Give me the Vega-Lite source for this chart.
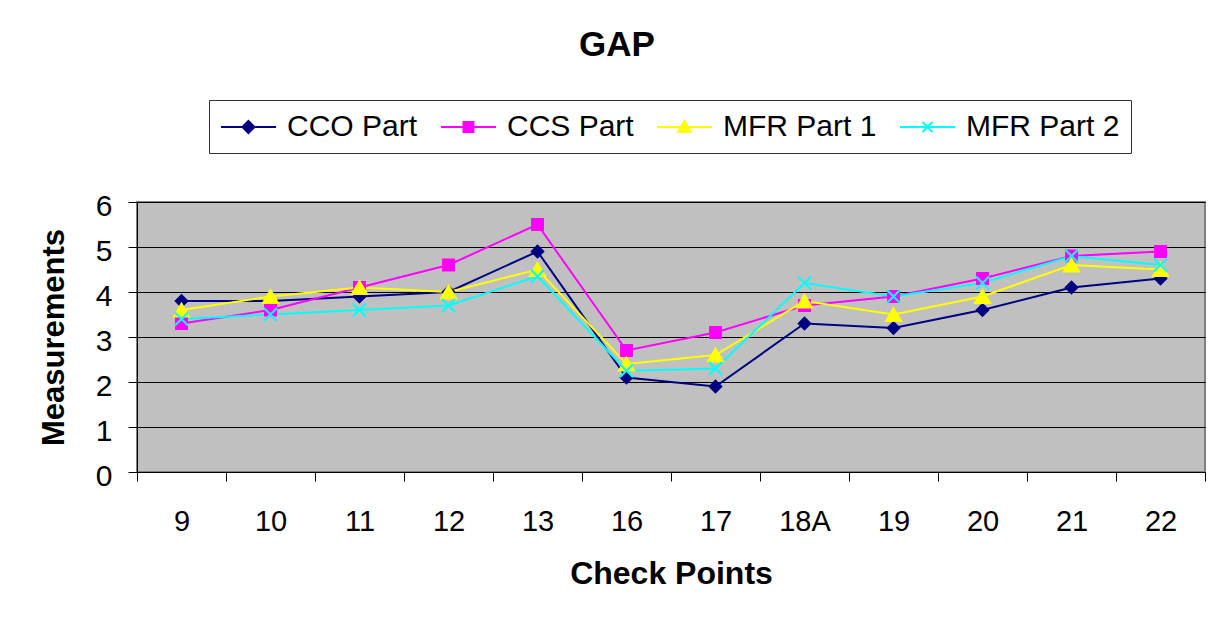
{
  "$schema": "https://vega.github.io/schema/vega-lite/v6.json",
  "autosize": {"type": "none"},
  "width": 1068,
  "height": 270,
  "padding": {"left": 137, "top": 202, "right": 20, "bottom": 149},
  "background": "white",
  "title": {
    "text": "GAP",
    "font": "Liberation Sans",
    "fontSize": 35,
    "fontWeight": "bold",
    "color": "black",
    "anchor": "middle",
    "frame": "group",
    "dx": -54,
    "offset": 37
  },
  "config": {
    "font": "Liberation Sans",
    "view": {"fill": "#C0C0C0", "stroke": "#808080", "strokeWidth": 2},
    "axis": {
      "labelFont": "Liberation Sans",
      "titleFont": "Liberation Sans",
      "labelColor": "black",
      "titleColor": "black",
      "domainColor": "black",
      "tickColor": "black",
      "gridColor": "black",
      "gridOpacity": 1,
      "tickSize": 9,
      "domainWidth": 1,
      "tickWidth": 1
    },
    "legend": {
      "title": null,
      "orient": "none",
      "legendX": 72,
      "legendY": -102,
      "direction": "horizontal",
      "strokeColor": "#333333",
      "fillColor": "white",
      "padding": 11,
      "labelFont": "Liberation Sans",
      "labelFontSize": 30,
      "labelColor": "black",
      "labelOffset": 35,
      "columnPadding": 19,
      "symbolSize": 900,
      "symbolStrokeWidth": 2,
      "symbolOpacity": 1
    }
  },
  "data": {
    "values": [
      {"cp": "9", "series": "CCO Part", "value": 3.8},
      {"cp": "10", "series": "CCO Part", "value": 3.8},
      {"cp": "11", "series": "CCO Part", "value": 3.9},
      {"cp": "12", "series": "CCO Part", "value": 4.0},
      {"cp": "13", "series": "CCO Part", "value": 4.9},
      {"cp": "16", "series": "CCO Part", "value": 2.1},
      {"cp": "17", "series": "CCO Part", "value": 1.9},
      {"cp": "18A", "series": "CCO Part", "value": 3.3},
      {"cp": "19", "series": "CCO Part", "value": 3.2},
      {"cp": "20", "series": "CCO Part", "value": 3.6},
      {"cp": "21", "series": "CCO Part", "value": 4.1},
      {"cp": "22", "series": "CCO Part", "value": 4.3},
      {"cp": "9", "series": "CCS Part", "value": 3.3},
      {"cp": "10", "series": "CCS Part", "value": 3.6},
      {"cp": "11", "series": "CCS Part", "value": 4.1},
      {"cp": "12", "series": "CCS Part", "value": 4.6},
      {"cp": "13", "series": "CCS Part", "value": 5.5},
      {"cp": "16", "series": "CCS Part", "value": 2.7},
      {"cp": "17", "series": "CCS Part", "value": 3.1},
      {"cp": "18A", "series": "CCS Part", "value": 3.7},
      {"cp": "19", "series": "CCS Part", "value": 3.9},
      {"cp": "20", "series": "CCS Part", "value": 4.3},
      {"cp": "21", "series": "CCS Part", "value": 4.8},
      {"cp": "22", "series": "CCS Part", "value": 4.9},
      {"cp": "9", "series": "MFR Part 1", "value": 3.6},
      {"cp": "10", "series": "MFR Part 1", "value": 3.9},
      {"cp": "11", "series": "MFR Part 1", "value": 4.1},
      {"cp": "12", "series": "MFR Part 1", "value": 4.0},
      {"cp": "13", "series": "MFR Part 1", "value": 4.5},
      {"cp": "16", "series": "MFR Part 1", "value": 2.4},
      {"cp": "17", "series": "MFR Part 1", "value": 2.6},
      {"cp": "18A", "series": "MFR Part 1", "value": 3.8},
      {"cp": "19", "series": "MFR Part 1", "value": 3.5},
      {"cp": "20", "series": "MFR Part 1", "value": 3.9},
      {"cp": "21", "series": "MFR Part 1", "value": 4.6},
      {"cp": "22", "series": "MFR Part 1", "value": 4.5},
      {"cp": "9", "series": "MFR Part 2", "value": 3.4},
      {"cp": "10", "series": "MFR Part 2", "value": 3.5},
      {"cp": "11", "series": "MFR Part 2", "value": 3.6},
      {"cp": "12", "series": "MFR Part 2", "value": 3.7},
      {"cp": "13", "series": "MFR Part 2", "value": 4.35},
      {"cp": "16", "series": "MFR Part 2", "value": 2.25},
      {"cp": "17", "series": "MFR Part 2", "value": 2.3},
      {"cp": "18A", "series": "MFR Part 2", "value": 4.2},
      {"cp": "19", "series": "MFR Part 2", "value": 3.9},
      {"cp": "20", "series": "MFR Part 2", "value": 4.2},
      {"cp": "21", "series": "MFR Part 2", "value": 4.8},
      {"cp": "22", "series": "MFR Part 2", "value": 4.6}
    ]
  },
  "encoding": {
    "x": {
      "field": "cp",
      "type": "ordinal",
      "sort": null,
      "bandPosition": 0.5,
      "scale": {"type": "band", "paddingInner": 0, "paddingOuter": 0},
      "axis": {
        "title": "Check Points",
        "titleFontSize": 32,
        "titleFontWeight": "bold",
        "titleY": 111,
        "titleBaseline": "alphabetic",
        "labelFontSize": 29,
        "labelAngle": 0,
        "labelBaseline": "alphabetic",
        "labelPadding": 49,
        "tickBand": "extent",
        "grid": false
      }
    },
    "y": {
      "field": "value",
      "type": "quantitative",
      "scale": {"domain": [0, 6], "nice": false},
      "axis": {
        "title": "Measurements",
        "titleFontSize": 31,
        "titleFontWeight": "bold",
        "titleAngle": 270,
        "titleBaseline": "middle",
        "titleAlign": "center",
        "titleX": -83,
        "titleY": 135,
        "labelFontSize": 30,
        "labelPadding": 16,
        "labelBaseline": "alphabetic",
        "labelOffset": 13,
        "values": [0, 1, 2, 3, 4, 5, 6],
        "grid": true
      }
    },
    "color": {
      "field": "series",
      "type": "nominal",
      "scale": {
        "domain": ["CCO Part", "CCS Part", "MFR Part 1", "MFR Part 2"],
        "range": ["#000080", "#FF00FF", "#FFFF00", "#00FFFF"]
      }
    }
  },
  "layer": [
    {
      "mark": {"type": "line", "strokeWidth": 2}
    },
    {
      "transform": [{"filter": "datum.series === 'CCO Part'"}],
      "mark": {"type": "point", "shape": "diamond", "filled": true, "opacity": 1, "size": 150, "stroke": "#000080", "strokeWidth": 1.5}
    },
    {
      "transform": [{"filter": "datum.series === 'CCS Part'"}],
      "mark": {"type": "point", "shape": "square", "filled": true, "opacity": 1, "size": 130, "stroke": "#FF00FF", "strokeWidth": 1.5}
    },
    {
      "transform": [{"filter": "datum.series === 'MFR Part 1'"}],
      "mark": {"type": "point", "shape": "triangle-up", "filled": true, "opacity": 1, "size": 250, "stroke": "#FFFF00", "strokeWidth": 1.5}
    },
    {
      "transform": [{"filter": "datum.series === 'MFR Part 2'"}],
      "mark": {"type": "point", "shape": "M-1,-1L1,1M-1,1L1,-1", "filled": true, "opacity": 1, "size": 170, "stroke": "#00FFFF", "strokeWidth": 2}
    },
    {
      "mark": {"type": "point", "filled": true, "opacity": 0},
      "encoding": {
        "stroke": {
          "field": "series",
          "type": "nominal",
          "scale": {
            "domain": ["CCO Part", "CCS Part", "MFR Part 1", "MFR Part 2"],
            "range": ["#000080", "#FF00FF", "#FFFF00", "#00FFFF"]
          }
        },
        "shape": {
          "field": "series",
          "type": "nominal",
          "scale": {
            "domain": ["CCO Part", "CCS Part", "MFR Part 1", "MFR Part 2"],
            "range": [
              "M-1,0H2.67M0.83,-0.4L1.23,0L0.83,0.4L0.43,0Z",
              "M-1,0H2.67M0.5,-0.33H1.16V0.33H0.5Z",
              "M-1,0H2.67M0.83,-0.42L1.25,0.32L0.41,0.32Z",
              "M-1,0H2.67M0.5,-0.33L1.16,0.33M0.5,0.33L1.16,-0.33"
            ]
          }
        }
      }
    }
  ]
}
